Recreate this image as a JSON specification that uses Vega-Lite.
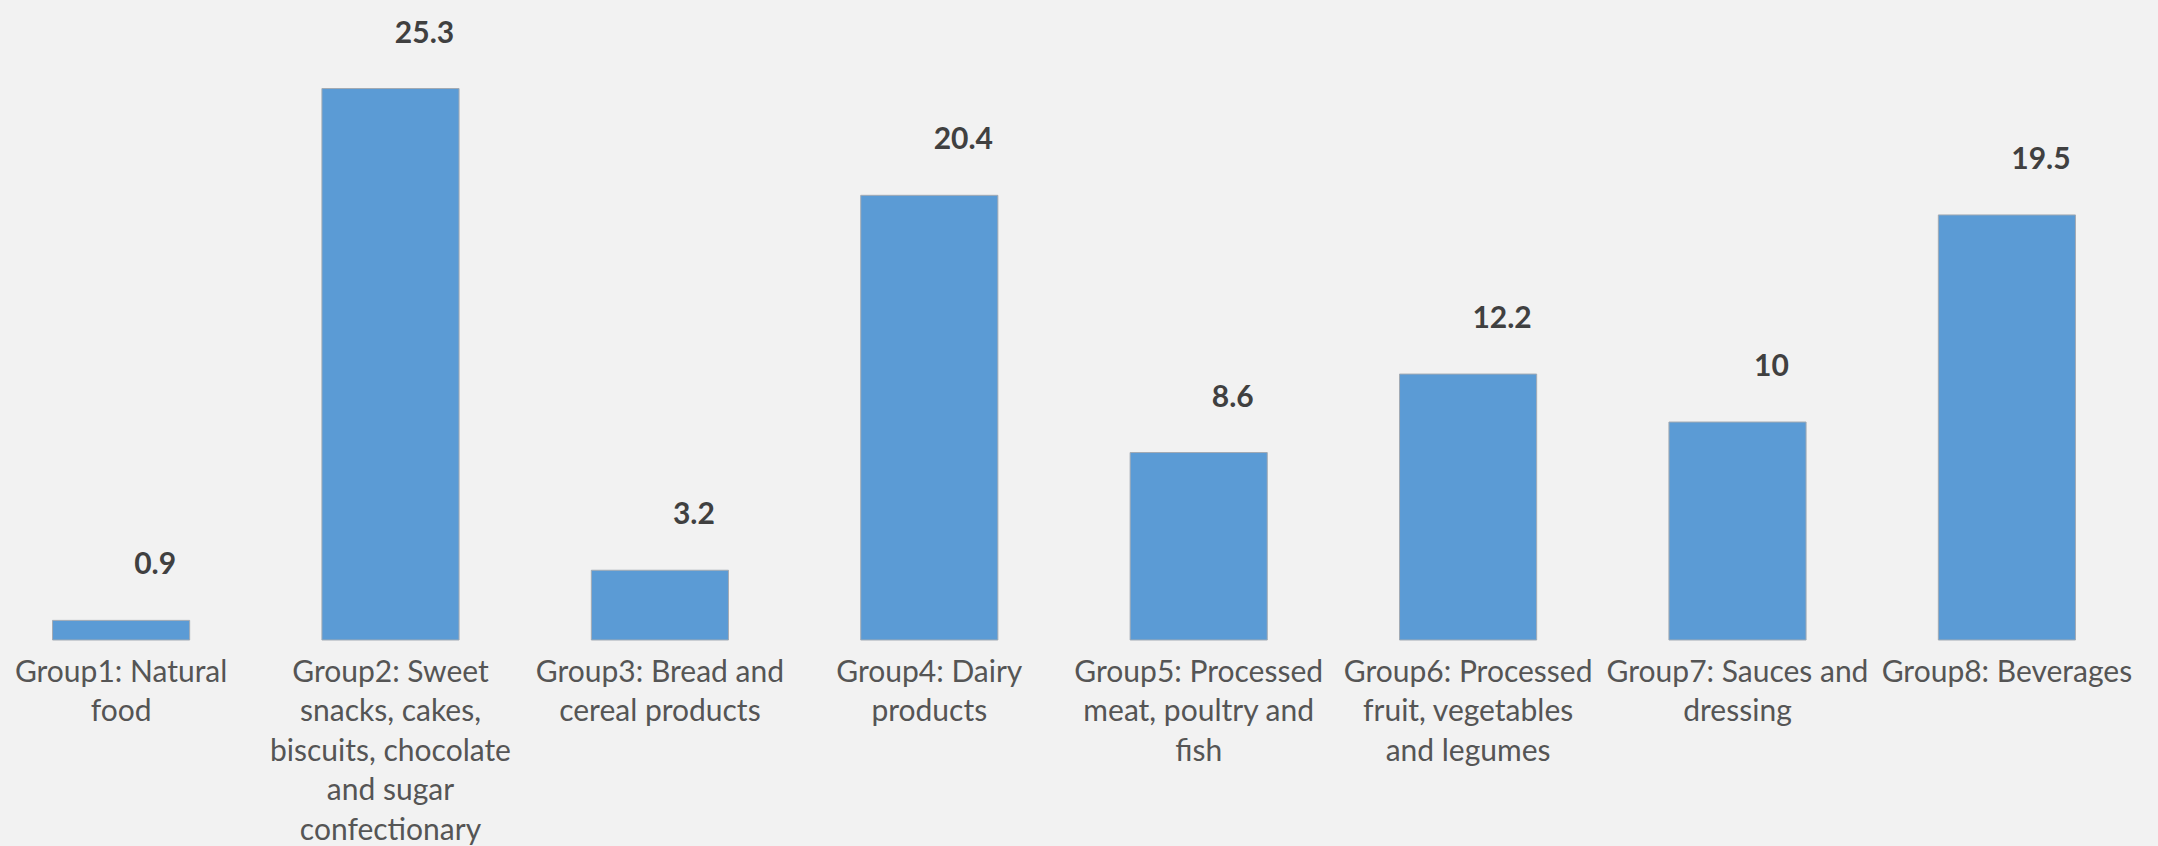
{
  "$schema": "https://vega.github.io/schema/vega-lite/v6.json",
  "width": 2128,
  "height": 640,
  "autosize": {"type": "none"},
  "padding": {"left": 0, "top": 0, "right": 30, "bottom": 206},
  "background": "#F2F2F2",
  "config": {"view": {"stroke": null}},
  "data": {
    "values": [
      {"group": "Group1: Natural\nfood", "value": 0.9},
      {"group": "Group2: Sweet\nsnacks, cakes,\nbiscuits, chocolate\nand sugar\nconfectionary", "value": 25.3},
      {"group": "Group3: Bread and\ncereal products", "value": 3.2},
      {"group": "Group4: Dairy\nproducts", "value": 20.4},
      {"group": "Group5: Processed\nmeat, poultry and\nfish", "value": 8.6},
      {"group": "Group6: Processed\nfruit, vegetables\nand legumes", "value": 12.2},
      {"group": "Group7: Sauces and\ndressing", "value": 10},
      {"group": "Group8: Beverages", "value": 19.5}
    ]
  },
  "encoding": {
    "x": {
      "field": "group",
      "type": "nominal",
      "sort": null,
      "scale": {"paddingInner": 0.491, "paddingOuter": 0.195},
      "axis": {
        "title": null,
        "labelAngle": 0,
        "labelExpr": "split(datum.value, '\\n')",
        "labelFont": "Lato",
        "labelFontSize": 30,
        "labelColor": "#555555",
        "labelLineHeight": 39.5,
        "labelBaseline": "top",
        "labelPadding": 17,
        "ticks": false,
        "domain": false,
        "labelLimit": 0
      }
    },
    "y": {
      "field": "value",
      "type": "quantitative",
      "scale": {"domain": [0, 29.36], "nice": false},
      "axis": null
    }
  },
  "layer": [
    {
      "mark": {"type": "bar", "color": "#5B9BD5", "stroke": "#A2AAB3", "strokeWidth": 1}
    },
    {
      "mark": {
        "type": "text",
        "font": "Lato",
        "fontWeight": "bold",
        "fontSize": 30,
        "color": "#404040",
        "baseline": "middle",
        "dx": 34,
        "dy": -55
      },
      "encoding": {"text": {"field": "value", "type": "quantitative"}}
    }
  ]
}
